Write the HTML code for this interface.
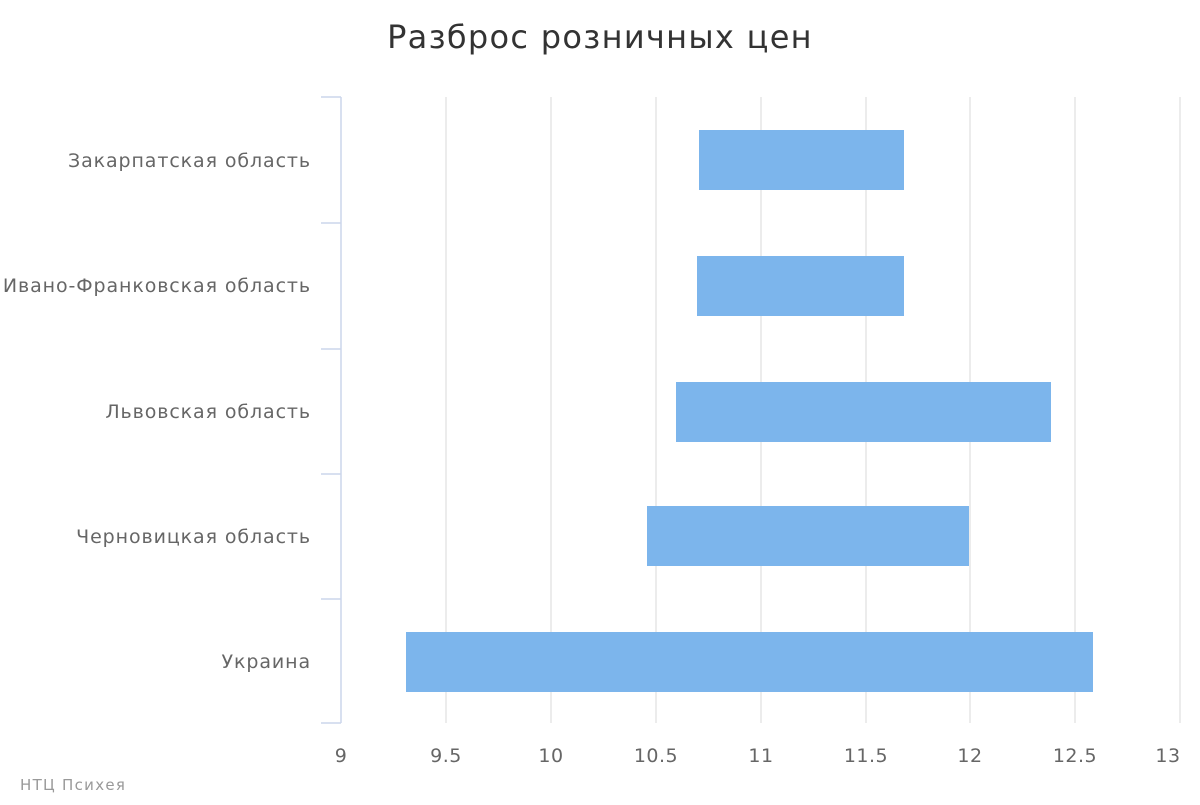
<!DOCTYPE html>
<html><head><meta charset="utf-8"><style>
body{margin:0;background:#fff;width:1200px;height:800px;overflow:hidden}
</style></head><body>
<svg width="1200" height="800" xmlns="http://www.w3.org/2000/svg" font-family="'DejaVu Sans','Liberation Sans',sans-serif">
<rect width="1200" height="800" fill="#fff"/>
<text x="600" y="48" text-anchor="middle" font-size="32" letter-spacing="1.3" fill="#333">Разброс розничных цен</text>
<g stroke="#e6e6e6" stroke-width="1.5">
<line x1="446" y1="97" x2="446" y2="723"/>
<line x1="551" y1="97" x2="551" y2="723"/>
<line x1="656" y1="97" x2="656" y2="723"/>
<line x1="761" y1="97" x2="761" y2="723"/>
<line x1="866" y1="97" x2="866" y2="723"/>
<line x1="970" y1="97" x2="970" y2="723"/>
<line x1="1075" y1="97" x2="1075" y2="723"/>
<line x1="1180" y1="97" x2="1180" y2="723"/>
</g>
<g stroke="#ccd6eb" stroke-width="1.5">
<line x1="341" y1="97" x2="341" y2="723"/>
<line x1="321" y1="97" x2="341" y2="97"/>
<line x1="321" y1="223" x2="341" y2="223"/>
<line x1="321" y1="349" x2="341" y2="349"/>
<line x1="321" y1="474" x2="341" y2="474"/>
<line x1="321" y1="599" x2="341" y2="599"/>
<line x1="321" y1="723" x2="341" y2="723"/>
</g>
<g fill="#7cb5ec">
<rect x="699" y="130" width="205" height="60"/>
<rect x="697" y="256" width="207" height="60"/>
<rect x="676" y="382" width="375" height="60"/>
<rect x="647" y="506" width="322" height="60"/>
<rect x="406" y="632" width="687" height="60"/>
</g>
<g font-size="19" fill="#666" text-anchor="end" letter-spacing="0.9">
<text x="311" y="167">Закарпатская область</text>
<text x="311" y="292">Ивано-Франковская область</text>
<text x="311" y="418">Львовская область</text>
<text x="311" y="543">Черновицкая область</text>
<text x="311" y="668">Украина</text>
</g>
<g font-size="19" fill="#666" text-anchor="middle" letter-spacing="0.5">
<text x="341" y="762">9</text>
<text x="446" y="762">9.5</text>
<text x="551" y="762">10</text>
<text x="656" y="762">10.5</text>
<text x="761" y="762">11</text>
<text x="866" y="762">11.5</text>
<text x="970" y="762">12</text>
<text x="1075" y="762">12.5</text>
<text x="1168" y="762">13</text>
</g>
<text x="20" y="790" font-size="15" letter-spacing="1.3" fill="#999">НТЦ Психея</text>
</svg>
</body></html>
